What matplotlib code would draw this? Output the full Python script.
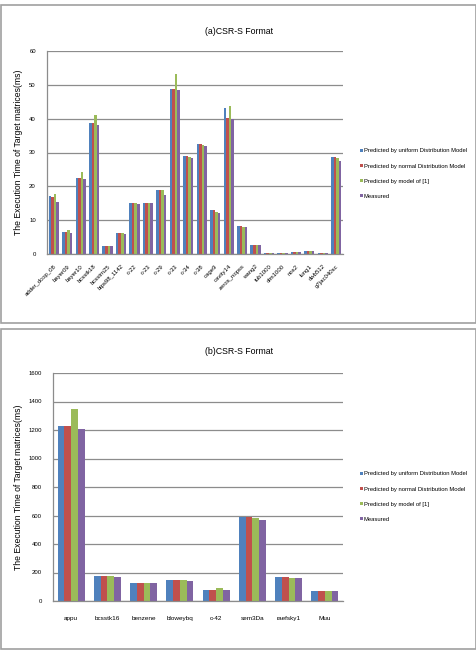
import matplotlib
matplotlib.use("Agg")
import matplotlib.pyplot as plt
import numpy as np
from matplotlib.patches import Rectangle

plt.rcParams['font.family'] = ['Liberation Sans', 'DejaVu Sans']

series_names = ["Predicted by uniform Distribution Model",
                "Predicted by normal Distribution Model",
                "Predicted by model of [1]",
                "Measured"]
colors = ["#4F81BD", "#C0504D", "#9BBB59", "#8064A2"]

cats_a = ["adder_dcop_08", "bayer09", "bayer10", "bcsstk18", "bcsstm25", "bips98_1142",
          "c-22", "c-23", "c-29", "c-33", "c-34", "c-38", "cage9", "cavity14",
          "zeros_nopss", "wang2", "tub1000", "olm1000", "nos2", "lung1", "dwb512", "g7jac040sc"]
uniform_a = [17.0, 6.5, 22.5, 38.6, 2.4, 6.2, 15.2, 15.2, 19.0, 48.9, 29.0, 32.5, 12.9, 43.1,
             8.2, 2.7, 0.4, 0.4, 0.6, 1.0, 0.4, 28.7]
normal_a = [16.8, 6.5, 22.5, 38.6, 2.4, 6.2, 15.2, 15.2, 19.0, 48.9, 29.0, 32.5, 12.9, 40.2,
            8.2, 2.7, 0.4, 0.4, 0.6, 1.0, 0.4, 28.7]
model1_a = [17.6, 7.0, 24.1, 41.2, 2.5, 6.2, 15.0, 15.2, 19.0, 53.3, 28.8, 32.3, 12.5, 43.7,
            8.1, 2.7, 0.4, 0.4, 0.6, 1.0, 0.4, 28.4]
measured_a = [15.5, 6.3, 22.3, 38.2, 2.4, 6.0, 14.7, 15.0, 17.3, 48.4, 28.5, 32.0, 12.1, 40.0,
              7.9, 2.6, 0.4, 0.4, 0.6, 1.0, 0.4, 27.6]
yticks_a = [0, 10, 20, 30, 40, 50, 60]

cats_b = ["appu", "bcsstk16", "benzene", "bloweybq", "c-42", "sem3Da", "raefsky1", "Muu"]
uniform_b = [1230, 175, 128, 148, 80, 590, 165, 68]
normal_b = [1230, 178, 128, 145, 80, 590, 165, 68]
model1_b = [1345, 175, 128, 150, 90, 585, 162, 68]
measured_b = [1210, 165, 128, 138, 80, 565, 162, 68]
yticks_b = [0, 200, 400, 600, 800, 1000, 1200, 1400, 1600]

W, H = 476, 658
fig = plt.figure(figsize=(W / 100, H / 100), dpi=100)

# panel borders
for (x0, y0, x1, y1) in [(1, 5, 476, 323), (1, 329, 476, 649)]:
    fig.patches.append(Rectangle((x0 / W, 1 - y1 / H), (x1 - x0) / W, (y1 - y0) / H,
                                 transform=fig.transFigure, fill=False,
                                 edgecolor="#a0a0a0", linewidth=1.2))


def draw(ax, cats, data, yticks, group_w, rot):
    n = len(cats)
    x = np.arange(n)
    bw = group_w / 4
    handles = []
    for i, (vals, c, name) in enumerate(zip(data, colors, series_names)):
        h = ax.bar(x - group_w / 2 + bw * (i + 0.5), vals, bw, color=c, label=name,
                   edgecolor="none")
        handles.append(h)
    ax.set_xlim(-0.5, n - 0.5)
    ax.set_ylim(yticks[0], yticks[-1])
    ax.set_yticks(yticks)
    ax.set_yticklabels([str(t) for t in yticks], fontsize=4.3)
    ax.set_xticks(x)
    if rot:
        ax.set_xticklabels(cats, fontsize=4.3, rotation=45, ha="right",
                           rotation_mode="anchor")
        ax.tick_params(axis="x", pad=7)
    else:
        ax.set_xticklabels(cats, fontsize=4.6)
        ax.tick_params(axis="x", pad=11)
    ax.tick_params(axis="both", length=0)
    ax.tick_params(axis="y", pad=8)
    ax.grid(axis="y", color="#8c8c8c", linewidth=0.9)
    ax.set_axisbelow(True)
    for s in ["top", "right"]:
        ax.spines[s].set_visible(False)
    for s in ["left", "bottom"]:
        ax.spines[s].set_color("#8c8c8c")
        ax.spines[s].set_linewidth(0.9)
    ax.set_ylabel("The Execution Time of Target matrices(ms)", fontsize=6.2)
    return handles


# top panel
ax1 = fig.add_axes([47 / W, 1 - 254 / H, (343 - 47) / W, (254 - 51) / H])
h1 = draw(ax1, cats_a, [uniform_a, normal_a, model1_a, measured_a], yticks_a, 0.76, True)
ax1.yaxis.set_label_coords(-24 / 296, 0.5)
fig.text(239 / W, 1 - 31 / H, "(a)CSR-S Format", fontsize=6.3, ha="center", va="center")
fig.legend(h1, series_names, loc="upper left", bbox_to_anchor=(358 / W, 1 - 146 / H),
           frameon=False, fontsize=4.2, handlelength=0.45, handleheight=0.45,
           handletextpad=0.15, labelspacing=1.75, borderaxespad=0)

# bottom panel
ax2 = fig.add_axes([53 / W, 1 - 601 / H, (343 - 53) / W, (601 - 373) / H])
h2 = draw(ax2, cats_b, [uniform_b, normal_b, model1_b, measured_b], yticks_b, 0.74, False)
ax2.yaxis.set_label_coords(-30 / 290, 0.5)
fig.text(239 / W, 1 - 352 / H, "(b)CSR-S Format", fontsize=6.3, ha="center", va="center")
fig.legend(h2, series_names, loc="upper left", bbox_to_anchor=(358 / W, 1 - 469 / H),
           frameon=False, fontsize=4.2, handlelength=0.45, handleheight=0.45,
           handletextpad=0.15, labelspacing=1.75, borderaxespad=0)

fig.savefig("out.png", dpi=100)
